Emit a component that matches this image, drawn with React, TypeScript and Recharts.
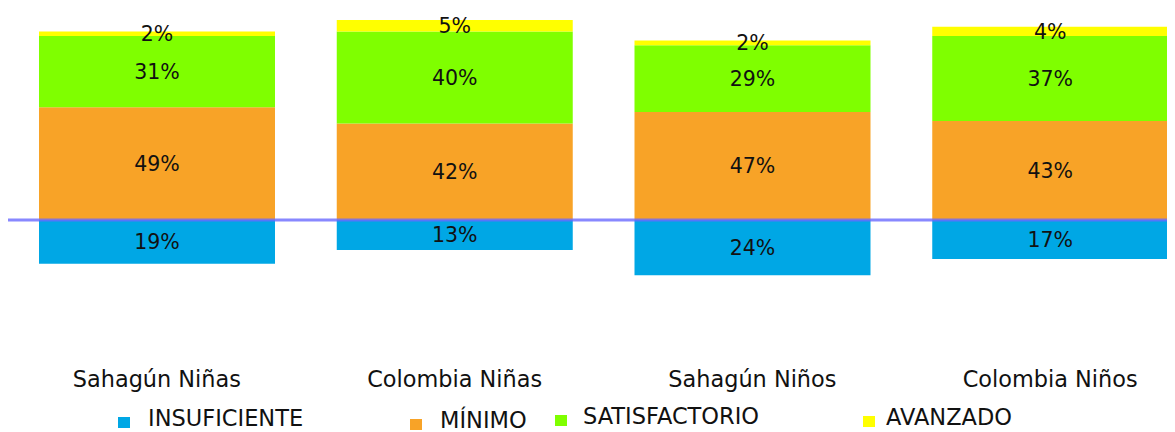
import React from 'react';
import {
    Bar,
    BarChart,
    LabelList,
    Legend,
    ReferenceLine,
    XAxis,
    YAxis
} from 'recharts';

const categories = ['Sahagún Niñas', 'Colombia Niñas', 'Sahagún Niños', 'Colombia Niños'];
const insuficiente = [19, 13, 24, 17];
const minimo = [49, 42, 47, 43];
const satisfactorio = [31, 40, 29, 37];
const avanzado = [2, 5, 2, 4];

const seriesNames = ['INSUFICIENTE', 'MÍNIMO', 'SATISFACTORIO', 'AVANZADO'];
const seriesColors = ['#00a7e5', '#f8a327', '#7fff00', '#ffff00'];

const data = categories.map((name, i) => ({
    name,
    insuficiente: -insuficiente[i],
    minimo: minimo[i],
    satisfactorio: satisfactorio[i],
    avanzado: avanzado[i],
}));

// legend item placement (relative to legend box), the source spaces them unevenly
const legendSpots = [
    { sq: 110, tx: 140, dy: 0 },
    { sq: 402, tx: 432, dy: 2 },
    { sq: 547, tx: 575, dy: -2 },
    { sq: 855, tx: 878, dy: -1 },
];

const FONT = '"DejaVu Sans", sans-serif';

const pct = (v: any) => `${Math.abs(Number(v))}%`;

function CategoryTick(props: any) {
    const { x, y, payload } = props;
    return (
        <text x={x} y={y + 29} textAnchor="middle" fontSize={22.4} fill="#111" fontFamily={FONT}>
            {payload.value}
        </text>
    );
}

function renderLegend() {
    return (
        <div style={{ position: 'relative', height: 35, fontFamily: FONT }}>
            {seriesNames.map((n, i) => (
                <React.Fragment key={n}>
                    <div
                        style={{
                            position: 'absolute',
                            left: legendSpots[i].sq,
                            top: 20 + legendSpots[i].dy,
                            width: 12,
                            height: 11,
                            background: seriesColors[i],
                        }}
                    />
                    <div
                        style={{
                            position: 'absolute',
                            left: legendSpots[i].tx,
                            top: 8 + legendSpots[i].dy,
                            fontSize: 22.5,
                            lineHeight: '26px',
                            color: '#111',
                            whiteSpace: 'nowrap',
                        }}
                    >
                        {n}
                    </div>
                </React.Fragment>
            ))}
        </div>
    );
}

export default function App() {
    return (
        <div style={{ width: 1167, height: 424, overflow: 'hidden', background: '#fff' }}>
            <BarChart
                width={1191}
                height={424}
                data={data}
                stackOffset="sign"
                barSize={236}
                margin={{ top: 5, right: 0, bottom: 0, left: 0 }}
            >
                <XAxis
                    dataKey="name"
                    axisLine={false}
                    tickLine={false}
                    tickSize={0}
                    tickMargin={0}
                    height={39}
                    interval={0}
                    tick={<CategoryTick />}
                />
                <YAxis hide domain={[-60, 90]} />
                <Bar dataKey="insuficiente" name={seriesNames[0]} stackId="a" fill={seriesColors[0]} isAnimationActive={false}>
                    <LabelList dataKey="insuficiente" position="center" formatter={pct} fill="#111" fontSize={20.5} fontFamily={FONT} />
                </Bar>
                <Bar dataKey="minimo" name={seriesNames[1]} stackId="a" fill={seriesColors[1]} isAnimationActive={false}>
                    <LabelList dataKey="minimo" position="center" formatter={pct} fill="#111" fontSize={20.5} fontFamily={FONT} />
                </Bar>
                <Bar dataKey="satisfactorio" name={seriesNames[2]} stackId="a" fill={seriesColors[2]} isAnimationActive={false}>
                    <LabelList dataKey="satisfactorio" position="center" formatter={pct} fill="#111" fontSize={20.5} fontFamily={FONT} />
                </Bar>
                <Bar dataKey="avanzado" name={seriesNames[3]} stackId="a" fill={seriesColors[3]} isAnimationActive={false}>
                    <LabelList dataKey="avanzado" position="center" formatter={pct} fill="#111" fontSize={20.5} fontFamily={FONT} />
                </Bar>
                <ReferenceLine y={0} stroke="#6a6aff" strokeOpacity={0.8} strokeWidth={3} />
                <Legend verticalAlign="bottom" height={35} content={renderLegend} wrapperStyle={{ height: 35 }} />
            </BarChart>
        </div>
    );
}
